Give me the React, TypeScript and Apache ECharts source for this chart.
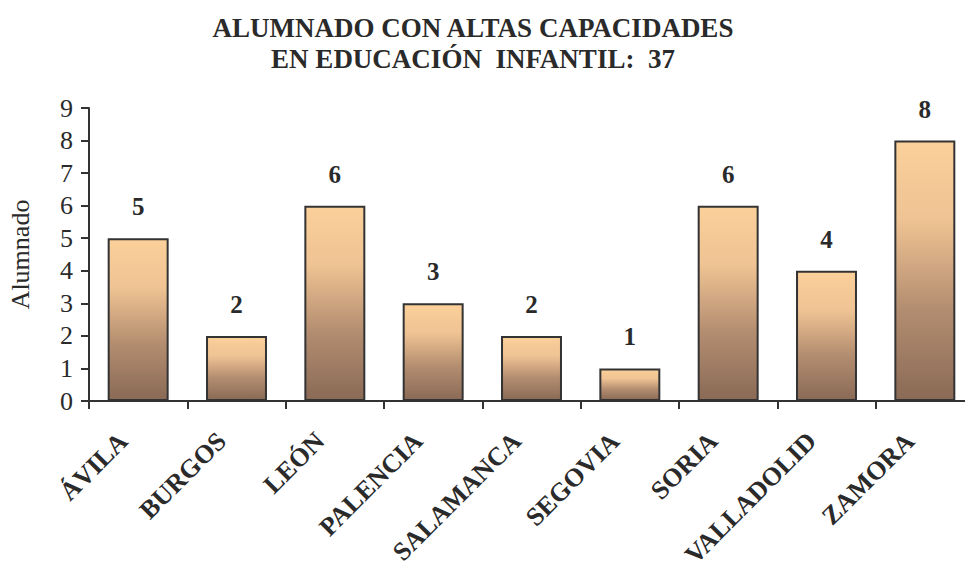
import React, { useEffect, useRef } from "react";
import * as echarts from "echarts";

const titleLines = ["ALUMNADO CON ALTAS CAPACIDADES", "EN EDUCACIÓN  INFANTIL:  37"];
const categories = ["ÁVILA", "BURGOS", "LEÓN", "PALENCIA", "SALAMANCA", "SEGOVIA", "SORIA", "VALLADOLID", "ZAMORA"];
const values = [5, 2, 6, 3, 2, 1, 6, 4, 8];
const yAxisName = "Alumnado";
const yMin = 0;
const yMax = 9;
const yInterval = 1;

const FONT = "'Liberation Serif', 'Times New Roman', serif";
const TXT = "#2a2a2a";

export default function App() {
  const ref = useRef<HTMLDivElement>(null);
  useEffect(() => {
    if (!ref.current) return;
    const chart = echarts.init(ref.current, null, { renderer: "svg" });
    chart.setOption({
      animation: false,
      backgroundColor: "#ffffff",
      title: {
        text: titleLines.join("\n"),
        left: 468,
        top: 7,
        textAlign: "center",
        padding: 5,
        textStyle: {
          fontFamily: FONT,
          fontWeight: "bold",
          fontSize: 27,
          lineHeight: 31,
          color: TXT,
        },
      },
      grid: { left: 89, right: -9, top: 108, bottom: 164, containLabel: false, outerBoundsMode: "none" },
      xAxis: {
        type: "category",
        data: categories,
        boundaryGap: true,
        axisLine: { lineStyle: { color: "#333", width: 2 } },
        axisTick: { show: true, length: 8, alignWithLabel: false, lineStyle: { color: "#333", width: 2 } },
        axisLabel: {
          rotate: 45,
          interval: 0,
          margin: 21,
          padding: [0, 21, 0, 0],
          fontFamily: FONT,
          fontWeight: "bold",
          fontSize: 26,
          color: TXT,
        },
      },
      yAxis: {
        type: "value",
        min: yMin,
        max: yMax,
        interval: yInterval,
        name: yAxisName,
        nameLocation: "middle",
        nameGap: 56,
        nameRotate: 90,
        nameTextStyle: { fontFamily: FONT, fontSize: 26, color: TXT },
        splitLine: { show: false },
        axisLine: { show: true, lineStyle: { color: "#333", width: 2 } },
        axisTick: { show: true, length: 8, lineStyle: { color: "#333", width: 2 } },
        axisLabel: { margin: 16, fontFamily: FONT, fontSize: 26, color: TXT },
      },
      series: [
        {
          type: "bar",
          data: values,
          barCategoryGap: "38%",
          itemStyle: {
            borderColor: "#333",
            borderWidth: 2,
            color: new echarts.graphic.LinearGradient(0, 0, 0, 1, [
              { offset: 0, color: "#FCD09A" },
              { offset: 0.3, color: "#EFC393" },
              { offset: 0.65, color: "#B38D70" },
              { offset: 1, color: "#8A6A56" },
            ]),
          },
          label: {
            show: true,
            position: "top",
            distance: 19,
            fontFamily: FONT,
            fontWeight: "bold",
            fontSize: 25,
            color: TXT,
          },
        },
      ],
    });
    return () => chart.dispose();
  }, []);
  return (
    <div
      ref={ref}
      style={{ position: "fixed", left: 0, top: 0, width: 965, height: 565 }}
    />
  );
}
